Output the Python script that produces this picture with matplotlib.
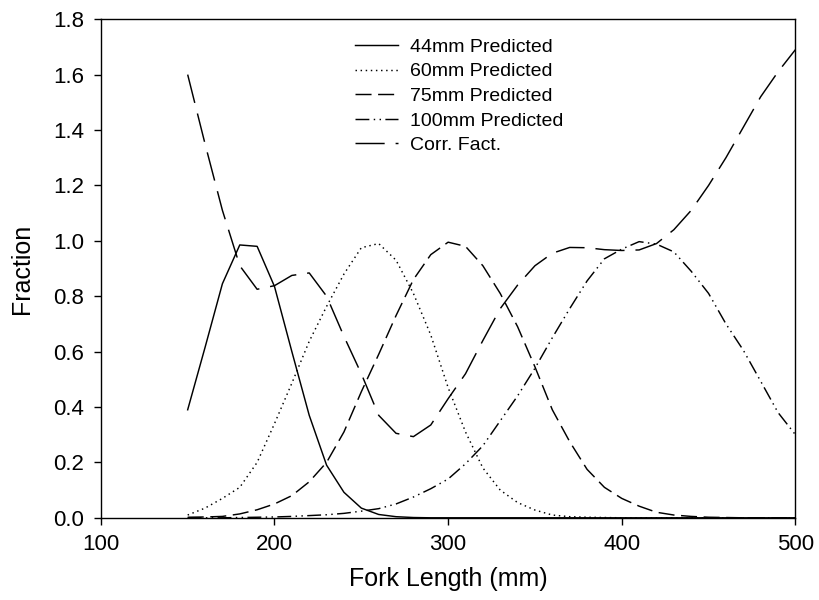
import matplotlib
matplotlib.use('Agg')
import matplotlib.pyplot as plt

plt.rcParams['font.family'] = ['Liberation Sans', 'DejaVu Sans']

# fork length (mm), 10 mm steps
fork_len = [150, 160, 170, 180, 190, 200, 210, 220, 230, 240,
            250, 260, 270, 280, 290, 300, 310, 320, 330, 340,
            350, 360, 370, 380, 390, 400, 410, 420, 430, 440,
            450, 460, 470, 480, 490, 500]

pred_44 = [0.39, 0.615, 0.845, 0.985, 0.98, 0.835, 0.60, 0.37, 0.19, 0.092,
           0.035, 0.012, 0.004, 0.001, 0.0, 0.0, 0.0, 0.0, 0.0, 0.0,
           0.0, 0.0, 0.0, 0.0, 0.0, 0.0, 0.0, 0.0, 0.0, 0.0,
           0.0, 0.0, 0.0, 0.0, 0.0, 0.0]

pred_60 = [0.01, 0.035, 0.07, 0.11, 0.20, 0.34, 0.486, 0.637, 0.763, 0.88,
           0.975, 0.99, 0.93, 0.81, 0.66, 0.47, 0.31, 0.18, 0.10, 0.055,
           0.028, 0.01, 0.004, 0.002, 0.001, 0.0, 0.0, 0.0, 0.0, 0.0,
           0.0, 0.0, 0.0, 0.0, 0.0, 0.0]

pred_75 = [0.002, 0.003, 0.005, 0.014, 0.029, 0.05, 0.08, 0.13, 0.20, 0.31,
           0.455, 0.59, 0.73, 0.86, 0.95, 0.995, 0.98, 0.91, 0.81, 0.69,
           0.545, 0.39, 0.275, 0.175, 0.11, 0.07, 0.042, 0.02, 0.01, 0.005,
           0.002, 0.001, 0.0, 0.0, 0.0, 0.0]

pred_100 = [0.0, 0.0, 0.0, 0.001, 0.002, 0.003, 0.005, 0.008, 0.011, 0.016,
            0.024, 0.033, 0.05, 0.075, 0.105, 0.14, 0.195, 0.26, 0.35, 0.44,
            0.54, 0.65, 0.755, 0.855, 0.935, 0.97, 0.997, 0.988, 0.96, 0.89,
            0.81, 0.70, 0.605, 0.493, 0.38, 0.30]

corr_fact = [1.60, 1.35, 1.11, 0.91, 0.825, 0.838, 0.875, 0.884, 0.80, 0.655,
             0.52, 0.37, 0.305, 0.293, 0.335, 0.43, 0.52, 0.64, 0.755, 0.84,
             0.91, 0.955, 0.976, 0.975, 0.968, 0.965, 0.967, 0.99, 1.04, 1.11,
             1.20, 1.30, 1.41, 1.52, 1.61, 1.69]

fig = plt.figure(figsize=(8.2, 6.0), dpi=100)
ax = fig.add_axes([0.123, 0.137, 0.847, 0.831])

lw = 1.05
ax.plot(fork_len, pred_44, color='black', lw=lw, label='44mm Predicted')
ax.plot(fork_len, pred_60, color='black', lw=lw, dashes=(1, 2.5), label='60mm Predicted')
ax.plot(fork_len, pred_75, color='black', lw=lw, dashes=(11, 4.5), label='75mm Predicted')
ax.plot(fork_len, pred_100, color='black', lw=lw, dashes=(9.5, 3, 1, 3, 1, 3), label='100mm Predicted')
ax.plot(fork_len, corr_fact, color='black', lw=lw, dashes=(20, 7.5), label='Corr. Fact.')

ax.set_xlim(100, 500)
ax.set_ylim(0, 1.8)
ax.set_xticks([100, 200, 300, 400, 500])
ax.set_yticks([0.0, 0.2, 0.4, 0.6, 0.8, 1.0, 1.2, 1.4, 1.6, 1.8])
ax.set_yticklabels(['%.1f' % v for v in ax.get_yticks()])

for sp in ax.spines.values():
    sp.set_linewidth(1.0)
ax.tick_params(direction='out', length=5, width=1.0, labelsize=16, pad=7,
               top=False, right=False)

ax.set_xlabel('Fork Length (mm)', fontsize=18, labelpad=8)
ax.set_ylabel('Fraction', fontsize=18, labelpad=14)

ax.legend(loc='upper left', bbox_to_anchor=(0.366, 0.962), frameon=False,
          fontsize=14, handlelength=2.2, handletextpad=0.62, labelspacing=0.36,
          borderpad=0, borderaxespad=0)

fig.savefig('out.png', dpi=100)
